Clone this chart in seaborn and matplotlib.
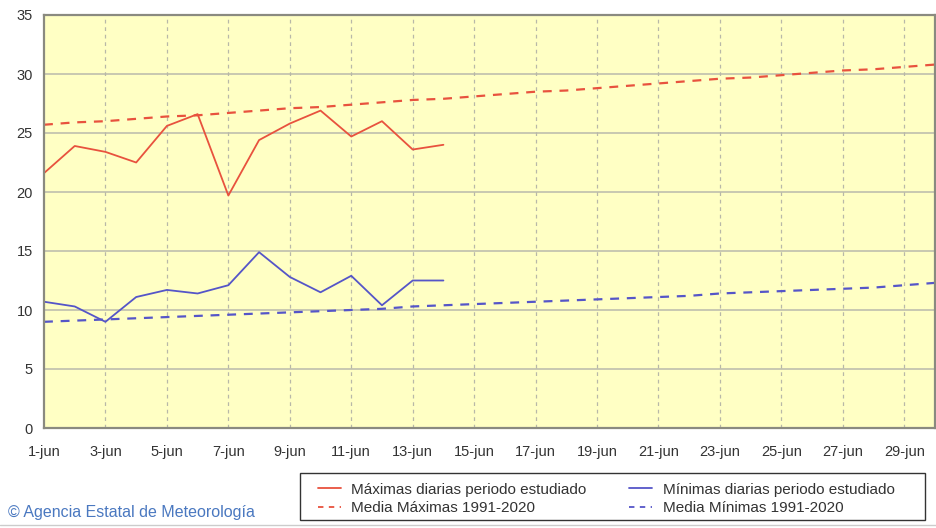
import matplotlib
matplotlib.use('Agg')
import matplotlib.pyplot as plt
import seaborn as sns
import pandas as pd
from matplotlib.lines import Line2D
from matplotlib.patches import Rectangle

# datos
dias = list(range(1, 31))
dias_obs = list(range(1, 15))
maximas = [21.6, 23.9, 23.4, 22.5, 25.6, 26.6, 19.7, 24.4, 25.8, 26.9, 24.7, 26.0, 23.6, 24.0]
minimas = [10.7, 10.3, 9.0, 11.1, 11.7, 11.4, 12.1, 14.9, 12.8, 11.5, 12.9, 10.4, 12.5, 12.5]
media_max = [25.7, 25.9, 26.0, 26.2, 26.4, 26.5, 26.7, 26.9, 27.1, 27.2,
             27.4, 27.6, 27.8, 27.9, 28.1, 28.3, 28.5, 28.6, 28.8, 29.0,
             29.2, 29.4, 29.6, 29.7, 29.9, 30.1, 30.3, 30.4, 30.6, 30.8]
media_min = [9.0, 9.1, 9.2, 9.3, 9.4, 9.5, 9.6, 9.7, 9.8, 9.9,
             10.0, 10.1, 10.3, 10.4, 10.5, 10.6, 10.7, 10.8, 10.9, 11.0,
             11.1, 11.2, 11.4, 11.5, 11.6, 11.7, 11.8, 11.9, 12.1, 12.3]
ticks_x = list(range(1, 31, 2))
etiquetas_x = ['%d-jun' % d for d in ticks_x]

obs = pd.DataFrame({'dia': dias_obs, 'max': maximas, 'min': minimas})
medias = pd.DataFrame({'dia': dias, 'max': media_max, 'min': media_min})

sns.set_style('white')
plt.rcParams['font.family'] = ['Liberation Sans', 'DejaVu Sans']

rojo = '#e8523e'
azul = '#5555c8'

fig = plt.figure(figsize=(9.37, 5.28), dpi=100)
ax = fig.add_axes([44 / 937, 1 - 428 / 528, (935 - 44) / 937, (428 - 15) / 528])
ax.set_facecolor('#ffffc4')

# rejilla
for y in range(5, 35, 5):
    ax.axhline(y, color='#c4c4b0', lw=1.3, zorder=0)
for x in ticks_x[1:]:
    ax.axvline(x, color='#b8b8a8', lw=0.9, ls=(0, (3, 3)), zorder=0)

sns.lineplot(data=medias, x='dia', y='max', ax=ax, color=rojo, lw=1.6)
ax.lines[-1].set_linestyle((0, (4, 3.5)))
sns.lineplot(data=medias, x='dia', y='min', ax=ax, color=azul, lw=1.6)
ax.lines[-1].set_linestyle((0, (4, 3.5)))
sns.lineplot(data=obs, x='dia', y='max', ax=ax, color=rojo, lw=1.3)
sns.lineplot(data=obs, x='dia', y='min', ax=ax, color=azul, lw=1.3)

ax.set_xlim(1, 30)
ax.set_ylim(0, 35)
ax.set_xticks(ticks_x)
ax.set_xticklabels(etiquetas_x)
ax.set_yticks(range(0, 36, 5))
ax.tick_params(axis='both', length=0, labelsize=10.5, colors='#333333')
ax.tick_params(axis='x', pad=12)
ax.tick_params(axis='y', pad=8)
ax.set_xlabel('')
ax.set_ylabel('')
for s in ax.spines.values():
    s.set_color('#8a8a80')
    s.set_linewidth(1.6)

# leyenda con marco dibujado aparte
handles = [
    Line2D([], [], color=rojo, lw=1.3),
    Line2D([], [], color=rojo, lw=1.3, ls=(0, (3, 3))),
    Line2D([], [], color=azul, lw=1.3),
    Line2D([], [], color=azul, lw=1.3, ls=(0, (3, 3))),
]
labels = ['Máximas diarias periodo estudiado', 'Media Máximas 1991-2020',
          'Mínimas diarias periodo estudiado', 'Media Mínimas 1991-2020']
leg = fig.legend(handles, labels, ncol=2, loc='center left', bbox_to_anchor=(310 / 937, 1 - 499 / 528),
                 frameon=False, fontsize=11, handlelength=1.5,
                 columnspacing=2.8, labelspacing=0.3, borderpad=0, handletextpad=0.7)
for t in leg.get_texts():
    t.set_color('#333333')
fig.add_artist(Rectangle((300 / 937, 1 - 520 / 528), 625 / 937, 47 / 528,
                         transform=fig.transFigure, fill=False, edgecolor='#333333', lw=1.0))

fig.text(8 / 937, 1 - 512 / 528, '© Agencia Estatal de Meteorología', color='#4a78c0',
         fontsize=11.5, va='center', ha='left')
fig.add_artist(Line2D([0, 1], [1 - 525 / 528, 1 - 525 / 528], color='#cccccc', lw=1.0))

fig.savefig('out.png', dpi=100)
